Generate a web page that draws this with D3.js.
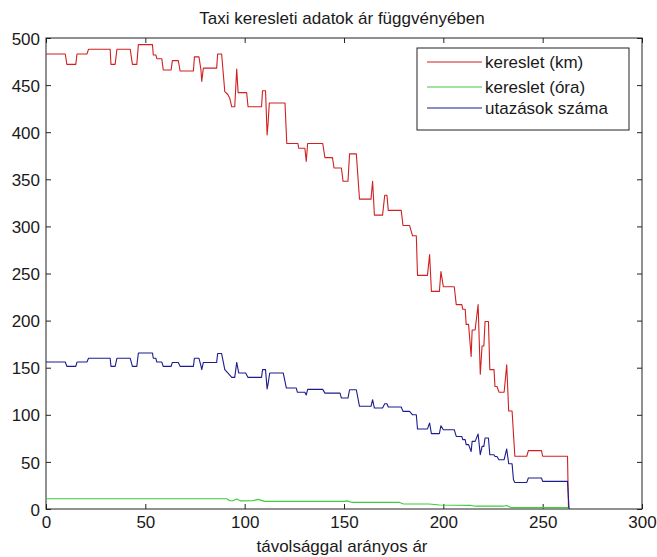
<!DOCTYPE html>
<html lang="hu">
<head>
<meta charset="UTF-8">
<title>Taxi keresleti adatok</title>
<script src="https://d3js.org/d3.v7.min.js"></script>
<style>
    body { margin: 0; background: #fff; }
    text { font-family: "Liberation Sans", Arial, sans-serif; fill: #1a1a1a; }
</style>
</head>
<body>
<div id="chart"></div>
<script>
// [ár, érték] pairs
var keresletKm = [
    [0,483],[9.7,483],[10.5,472],[15,472],[15.6,483],[20.6,483],[21.4,488],[32.3,488],
    [32.7,472],[34.8,472],[35.7,488],[42.4,488],[43.5,472],[45.7,472],[46.5,493],[53.6,493],
    [54,482],[55.3,482],[55.8,478],[58.3,478],[59,466],[63,466],[63.6,476],[66.6,476],
    [67.5,465],[74.2,465],[74.7,480],[77,480],[78,466],[78.4,454],[79.2,468],[85.9,468],
    [86.4,483],[88.4,483],[90,443],[91.5,440],[92.5,436],[93.5,427],[95,427],[96,467],
    [96.7,442],[101,442],[101.7,427],[108.5,427],[109,444],[110.5,444],[111.3,397],[111.8,410],
    [112.4,431],[120.3,431],[121.2,388],[126.8,388],[127.2,383],[130.3,383],[131,369],[131.7,388],
    [139.3,388],[140.4,373],[144.2,373],[145,362],[148.7,362],[149.5,348],[152,348],[152.8,377],
    [156.2,377],[157.8,329],[163.6,329],[164.4,348],[165.3,312],[169.4,312],[170.5,333],[171.6,333],
    [172.3,317],[178.8,317],[179.7,301],[183,301],[184.5,290],[186.4,290],[187,248],[192,248],
    [193.1,270],[194,231],[198,231],[198.8,252],[200,236],[205.5,236],[206.5,217],[209.3,217],
    [209.8,212],[211,212],[211.5,196],[212.7,196],[214,162],[214.5,190],[216,190],[217.5,217],
    [218.6,143],[219.5,173],[220.4,173],[221,199],[222.7,199],[223.4,148],[225.5,148],[226,130],
    [227,130],[228,124],[230.6,124],[231.9,153],[232.9,104],[234.6,104],[236,56],[242,56],
    [242.8,62],[249.4,62],[250,56],[262.5,56],[263,0]
];
var keresletOra = [
    [0,10.9],[91,10.9],[92.5,8.8],[94,8.8],[96,10.5],[98,8.6],[104,8.8],[106.8,10.2],
    [110,8.1],[150,8.1],[151.5,8.6],[154,7],[178,7],[180,5.3],[193,5.3],[198,4.2],
    [214,3.8],[216,3],[230,3],[231.9,3.8],[234,1.5],[262.5,1.5],[263.3,0]
];
var utazasokSzama = [
    [0,156],[9.7,156],[10.5,151.4],[15,151.4],[15.6,156],[20.6,156],[21.4,160],[32.3,160],
    [32.7,151.4],[34.8,151.4],[35.7,160],[42.4,160],[43.5,151.4],[45.7,151.4],[46.5,165.6],[53.6,165.6],
    [54,160],[55.3,160],[55.8,156],[58.3,156],[59,151.4],[63,151.4],[63.6,155.6],[66.6,155.6],
    [67.5,151.4],[74.2,151.4],[74.7,160],[77,160],[78,152],[78.4,148],[79.2,155.6],[85.9,155.6],
    [86.4,165],[88.4,165],[90,148],[91.5,144.4],[93.5,139.7],[95,139.7],[96,155.6],[97,144.4],
    [100.5,144.4],[101.7,139.7],[108.5,139.7],[109,148],[110.5,148],[111.3,127.4],[111.8,133],[112.6,144.4],
    [119.4,144.4],[121,128.4],[126,128.4],[126.5,124],[130.3,124],[131,121],[131.7,127],[139.3,127],
    [140.4,123],[148,123],[148.7,117.8],[152,117.8],[152.8,126.6],[156.2,126.6],[157.8,109],[163.6,109],
    [164.4,116],[165.3,107.2],[169.4,107.2],[170.5,111.8],[171.6,111.8],[172.3,108.3],[178.8,108.3],[179.7,103.6],
    [183,103.6],[184.5,100],[186.4,100],[187,85],[192,85],[193.1,91.3],[194,80],[198,80],
    [198.8,88.4],[200,84.2],[205.5,84.2],[206.5,77],[209.3,77],[209.8,73.6],[211,73.6],[211.5,68.3],
    [212.7,68.3],[214,61],[214.5,71.8],[216,71.8],[217.5,79.6],[218.6,57.6],[219.5,66.5],[220.4,66.5],
    [221,75.4],[222.7,75.4],[223.4,57.6],[225.5,57.6],[226,55.8],[227,55.8],[228,52.3],[230.6,52.3],
    [231.9,63.7],[232.9,48],[234.6,48],[235.3,31],[236,28.2],[242,28.2],[242.8,32.9],[249.4,32.9],
    [250,29.3],[262.5,29.3],[263.3,0]
];

var xTicks = [0, 50, 100, 150, 200, 250, 300];
var yTicks = [0, 50, 100, 150, 200, 250, 300, 350, 400, 450, 500];
var seriesNames = ["kereslet (km)", "kereslet (óra)", "utazások száma"];
var seriesColors = ["#d02020", "#3ccc3c", "#1c1c8c"];

var margin = {top: 38, right: 15, bottom: 48, left: 46},
    width = 657 - margin.left - margin.right,
    height = 557 - margin.top - margin.bottom;

var root = d3.select("#chart").append("svg")
    .attr("width", 657)
    .attr("height", 557);

var svg = root.append("g")
    .attr("transform", "translate(" + margin.left + "," + margin.top + ")");

var x = d3.scaleLinear().domain([0, 300]).range([0, width]);
var y = d3.scaleLinear().domain([0, 500]).range([height, 0]);

// axes, ticks pointing inwards on all four sides
var xAxis = svg.append("g")
    .attr("transform", "translate(0," + height + ")")
    .call(d3.axisBottom(x).tickValues(xTicks).tickSize(-5).tickPadding(7));
var yAxis = svg.append("g")
    .call(d3.axisLeft(y).tickValues(yTicks).tickSize(-5).tickPadding(6));
svg.append("g")
    .call(d3.axisTop(x).tickValues(xTicks).tickSize(-5).tickFormat(""));
svg.append("g")
    .attr("transform", "translate(" + width + ",0)")
    .call(d3.axisRight(y).tickValues(yTicks).tickSize(-5).tickFormat(""));

svg.selectAll(".domain").remove();
svg.selectAll(".tick line").attr("stroke", "#222");
svg.selectAll(".tick text").style("font-size", "17px").attr("fill", "#1a1a1a");
yAxis.selectAll(".tick text").attr("dy", "0.36em");

svg.append("rect")
    .attr("width", width)
    .attr("height", height)
    .attr("fill", "none")
    .attr("stroke", "#222")
    .attr("stroke-width", 1);

// lines
var line = d3.line()
    .x(function(d) { return x(d[0]); })
    .y(function(d) { return y(d[1]); });

[keresletKm, keresletOra, utazasokSzama].forEach(function(data, i) {
    svg.append("path")
        .datum(data)
        .attr("fill", "none")
        .attr("stroke", seriesColors[i])
        .attr("stroke-width", 1.1)
        .attr("stroke-linejoin", "round")
        .attr("d", line);
});

// titles
root.append("text")
    .attr("x", 342).attr("y", 24)
    .attr("text-anchor", "middle")
    .style("font-size", "17px")
    .text("Taxi keresleti adatok ár függvényében");

root.append("text")
    .attr("x", 342).attr("y", 552)
    .attr("text-anchor", "middle")
    .style("font-size", "17px")
    .text("távolsággal arányos ár");

// legend
var legend = root.append("g");
legend.append("rect")
    .attr("x", 417).attr("y", 48)
    .attr("width", 212).attr("height", 82)
    .attr("fill", "#fff")
    .attr("stroke", "#222");

var rowY = [62, 87, 108];
seriesNames.forEach(function(name, i) {
    legend.append("line")
        .attr("x1", 427).attr("x2", 482)
        .attr("y1", rowY[i]).attr("y2", rowY[i])
        .attr("stroke", seriesColors[i])
        .attr("stroke-width", 1.1);
    legend.append("text")
        .attr("x", 485).attr("y", rowY[i])
        .attr("dy", "0.36em")
        .style("font-size", "17px")
        .text(name);
});
</script>
</body>
</html>
